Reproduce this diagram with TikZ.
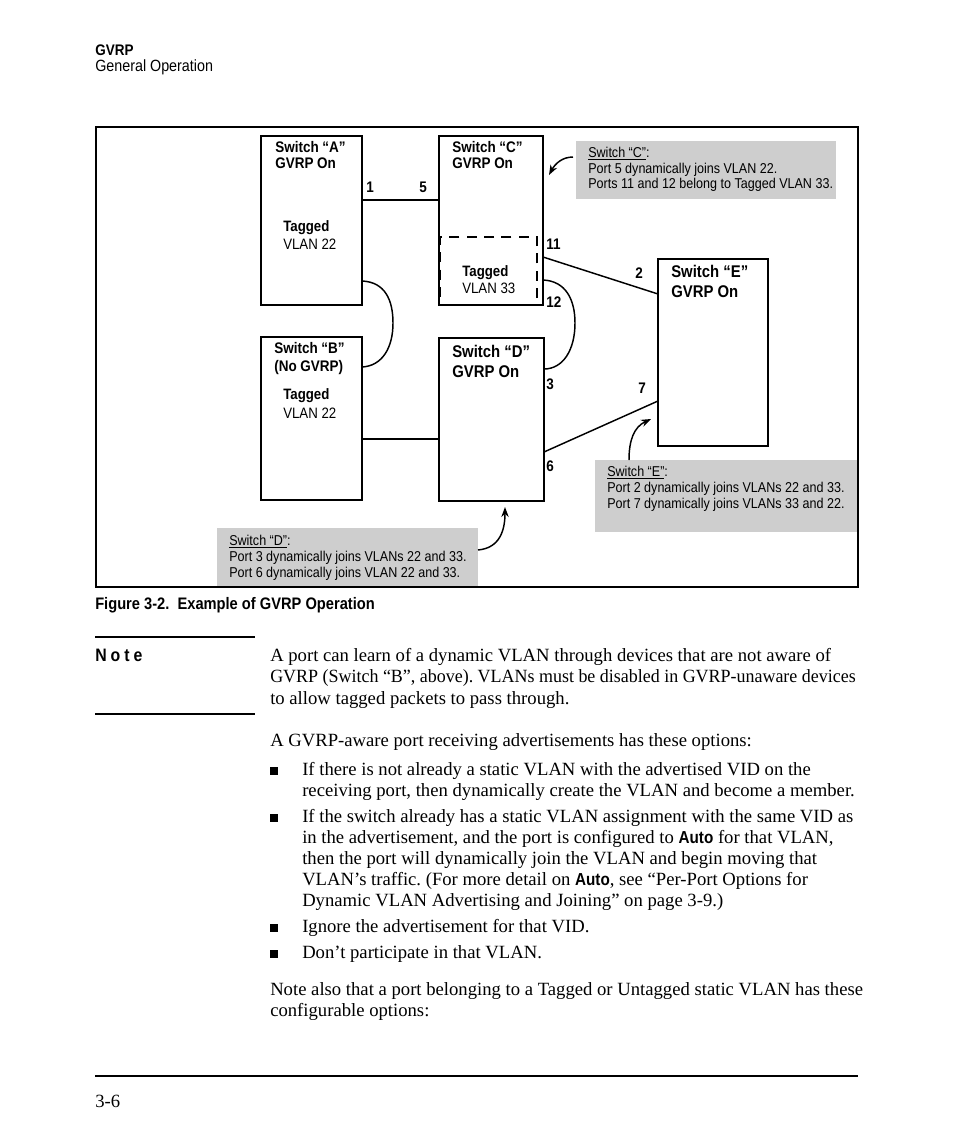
\documentclass[tikz,border=0pt]{standalone}
\usepackage{fontspec}
\usepackage{graphicx}
\setmainfont{Liberation Serif}
\newfontfamily\condfont[FakeStretch=0.88]{Liberation Sans}
\usetikzlibrary{arrows.meta,fit}
\definecolor{calloutgray}{RGB}{206,206,206}
\frenchspacing

\tikzset{
  switchbox/.style={draw, line width=1.5pt, inner sep=0pt},
  vlanbox/.style={draw, line width=1.4pt, dash pattern=on 7.5pt off 5.5pt, inner sep=0pt},
  callout/.style={fill=calloutgray, inner sep=0pt},
  swlabel/.style={anchor=base west, inner sep=0pt, font=\condfont\bfseries\fontsize{11.5}{13}\selectfont},
  biglabel/.style={anchor=base west, inner sep=0pt, font=\condfont\bfseries\fontsize{12.7}{15}\selectfont},
  tagtext/.style={anchor=base west, inner sep=0pt, font=\condfont\bfseries\fontsize{11.3}{13}\selectfont},
  vlantext/.style={anchor=base west, inner sep=0pt, font=\condfont\fontsize{11.3}{13}\selectfont},
  calltext/.style={anchor=base west, inner sep=0pt, font=\condfont\fontsize{10.7}{12}\selectfont},
  bodytext/.style={anchor=base west, inner sep=0pt, font=\fontsize{14}{17}\selectfont},
  link/.style={line width=1.1pt},
  pointer/.style={line width=1.1pt, -{Stealth[length=7.5pt,width=5.5pt]}},
  rule/.style={line width=0.8pt}
}

\newcommand{\autokw}{{\condfont\bfseries\fontsize{13}{15}\selectfont Auto}}
\newcommand{\bulletbox}[1]{\fill (270,#1) rectangle (278,#1-8);}

\begin{document}
\begin{tikzpicture}[x=0.75pt,y=-0.75pt]

  \useasboundingbox[fill=white] (0,0) rectangle (954,1145);

  % Header
  \node[anchor=base west, inner sep=0pt, font=\condfont\bfseries\fontsize{11.5}{13}\selectfont] (chapter) at (95,56) {GVRP};
  \node[anchor=base west, inner sep=0pt, font=\condfont\fontsize{12.2}{14}\selectfont] (section) at (95,72) {General Operation};

  % Callouts
  \node[callout, fit={(576,141) (836,199)}] (callC) {};
  \node[callout, fit={(217,528) (478,586)}] (callD) {};
  \node[callout, fit={(595,460) (858,532)}] (callE) {};

  % Switches
  \node[switchbox, fit={(261,136) (362,305)}] (swA) {};
  \node[switchbox, fit={(439,136) (543,305)}] (swC) {};
  \node[switchbox, fit={(261,337) (362,500)}] (swB) {};
  \node[switchbox, fit={(439,338) (544,501)}] (swD) {};
  \node[switchbox, fit={(658,259) (768,446)}] (swE) {};
  \node[vlanbox, fit={(440,237) (537,305)}] (vlanC) {};

  % Labels
  \node[swlabel] (nameA) at (275,153) {Switch “A”};
  \node[swlabel] (gvrpA) at (275,169) {GVRP On};
  \node[tagtext] (tagA) at (283,231) {Tagged};
  \node[vlantext] (vlanA) at (283,249) {VLAN 22};

  \node[swlabel] (nameC) at (452,153) {Switch “C”};
  \node[swlabel] (gvrpC) at (452,169) {GVRP On};
  \node[tagtext] (tagC) at (462,276) {Tagged};
  \node[vlantext] (vlanCtext) at (462,293) {VLAN 33};

  \node[swlabel] (nameB) at (274,353) {Switch “B”};
  \node[swlabel] (gvrpB) at (274,371) {(No GVRP)};
  \node[tagtext] (tagB) at (283,399) {Tagged};
  \node[vlantext] (vlanB) at (283,418) {VLAN 22};

  \node[biglabel] (nameD) at (452,357) {Switch “D”};
  \node[biglabel] (gvrpD) at (452,377) {GVRP On};

  \node[biglabel] (nameE) at (671,277) {Switch “E”};
  \node[biglabel] (gvrpE) at (671,297) {GVRP On};

  % Port numbers
  \node[swlabel] (lbl1) at (366,192) {1};
  \node[swlabel] (lbl5) at (419,192) {5};
  \node[swlabel] (lbl11) at (546,249) {11};
  \node[swlabel] (lbl12) at (546,307) {12};
  \node[swlabel] (lbl2) at (635,278) {2};
  \node[swlabel] (lbl7) at (638,393) {7};
  \node[swlabel] (lbl3) at (546,389) {3};
  \node[swlabel] (lbl6) at (546,471) {6};

  % Ports
  \coordinate (port1) at (362,200);
  \coordinate (port5) at (439,200);
  \coordinate (port11) at (543,257);
  \coordinate (port2) at (658,294);
  \coordinate (port12) at (543,280);
  \coordinate (port3) at (544,369);
  \coordinate (port6) at (544,452);
  \coordinate (port7) at (658,401);
  \coordinate (portA) at (362,281);
  \coordinate (portB) at (362,367);
  \coordinate (portBD) at (362,439);
  \coordinate (portDB) at (439,439);

  % Links
  \draw[line width=1.5pt] (port1) -- (port5);
  \draw[line width=0.8pt] (portBD) -- (portDB);
  \draw[link] (port11) -- (port2);
  \draw[link] (port6) -- (port7);
  \draw[link] (portA) .. controls (385,282) and (393,300) .. (393,323)
                      .. controls (393,348) and (382,366) .. (portB);
  \draw[link] (port12) .. controls (566,281) and (575,300) .. (575,323)
                       .. controls (575,350) and (563,369) .. (port3);

  % Callout text
  \node[calltext] (callCa) at (588,157) {\underline{Switch “C”}:};
  \node[calltext] (callCb) at (588,173) {Port 5 dynamically joins VLAN 22.};
  \node[calltext] (callCc) at (588,189) {Ports 11 and 12 belong to Tagged VLAN 33.};

  \node[calltext] (callDa) at (229,545) {\underline{Switch “D”}:};
  \node[calltext] (callDb) at (229,561) {Port 3 dynamically joins VLANs 22 and 33.};
  \node[calltext] (callDc) at (229,577) {Port 6 dynamically joins VLAN 22 and 33.};

  \node[calltext] (callEa) at (607,476) {\underline{Switch “E”}:};
  \node[calltext] (callEb) at (607,492) {Port 2 dynamically joins VLANs 22 and 33.};
  \node[calltext] (callEc) at (607,508) {Port 7 dynamically joins VLANs 33 and 22.};

  % Pointers
  \coordinate (tailC) at (573,157);
  \coordinate (tailD) at (478,550);
  \coordinate (tailE) at (629,460);
  \draw[pointer] (tailC) .. controls (562,157) and (555,164) .. (549,175);
  \draw[pointer] (tailD) .. controls (500,548) and (505,530) .. (505,507);
  \draw[pointer] (tailE) .. controls (629,440) and (634,427) .. (651,419);

  % Frame
  \draw[line width=1.5pt] (96,127) rectangle (858,587);

  % Caption
  \node[anchor=base west, inner sep=0pt, font=\condfont\bfseries\fontsize{12.5}{15}\selectfont] (caption) at (95,609) {Figure 3-2.\ \ Example of GVRP Operation};

  % Note
  \draw[rule] (95,637) -- (255,637);
  \draw[rule] (95,714) -- (255,714);
  \node[anchor=base west, inner sep=0pt, font=\condfont\bfseries\fontsize{13.5}{15}\selectfont] (notehead) at (95,661) {N\hspace{3pt}o\hspace{3pt}t\hspace{3pt}e};
  \node[bodytext] (note1) at (270,661) {A port can learn of a dynamic VLAN through devices that are not aware of};
  \node[bodytext] (note2) at (270,682) {\scalebox{0.962}[1]{GVRP (Switch “B”, above). VLANs must be disabled in GVRP-unaware devices}};
  \node[bodytext] (note3) at (270,704) {to allow tagged packets to pass through.};

  % Body
  \node[bodytext] (intro) at (270,746) {A GVRP-aware port receiving advertisements has these options:};
  \bulletbox{775}
  \node[bodytext] (opt1a) at (302,775) {If there is not already a static VLAN with the advertised VID on the};
  \node[bodytext] (opt1b) at (302,796) {receiving port, then dynamically create the VLAN and become a member.};
  \bulletbox{822}
  \node[bodytext] (opt2a) at (302,822) {If the switch already has a static VLAN assignment with the same VID as};
  \node[bodytext] (opt2b) at (302,843) {in the advertisement, and the port is configured to \autokw{} for that VLAN,};
  \node[bodytext] (opt2c) at (302,864) {then the port will dynamically join the VLAN and begin moving that};
  \node[bodytext] (opt2d) at (302,885) {VLAN’s traffic. (For more detail on \autokw, see “Per-Port Options for};
  \node[bodytext] (opt2e) at (302,906) {Dynamic VLAN Advertising and Joining” on page 3-9.)};
  \bulletbox{932}
  \node[bodytext] (opt3) at (302,932) {Ignore the advertisement for that VID.};
  \bulletbox{958}
  \node[bodytext] (opt4) at (302,958) {Don’t participate in that VLAN.};
  \node[bodytext] (also1) at (270,995) {Note also that a port belonging to a Tagged or Untagged static VLAN has these};
  \node[bodytext] (also2) at (270,1016) {configurable options:};

  % Footer
  \draw[rule] (95,1076) -- (858,1076);
  \node[bodytext] (pageno) at (95,1107) {3-6};

\end{tikzpicture}
\end{document}
